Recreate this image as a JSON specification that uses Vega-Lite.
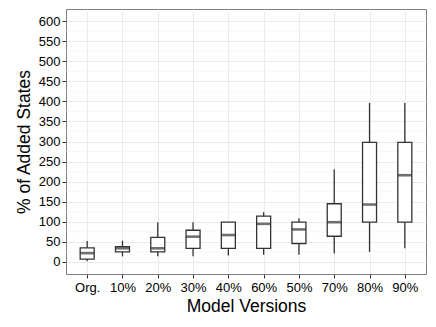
{
  "$schema": "https://vega.github.io/schema/vega-lite/v6.json",
  "autosize": "none",
  "width": 360,
  "height": 265,
  "padding": {"left": 66, "top": 9, "right": 10, "bottom": 53},
  "background": "white",
  "config": {
    "font": "Liberation Sans",
    "view": {"stroke": "#7f7f7f", "strokeWidth": 1},
    "axisY": {
      "title": "% of Added States",
      "titleFontSize": 17.5,
      "titleFontWeight": "normal",
      "titleColor": "black",
      "titlePadding": 5,
      "labelFontSize": 13,
      "labelColor": "black",
      "labelPadding": 2,
      "tickColor": "#333333",
      "tickSize": 4,
      "domain": false,
      "grid": true,
      "gridColor": "#ebebeb",
      "gridWidth": 1
    }
  },
  "data": {
    "values": [
      {"version": "Org.", "lower": 2, "q1": 7, "median": 22, "q3": 35, "upper": 52},
      {"version": "10%", "lower": 14, "q1": 25, "median": 34, "q3": 38, "upper": 53},
      {"version": "20%", "lower": 14, "q1": 25, "median": 34, "q3": 61, "upper": 99},
      {"version": "30%", "lower": 14, "q1": 34, "median": 63, "q3": 79, "upper": 99},
      {"version": "40%", "lower": 16, "q1": 34, "median": 67, "q3": 99, "upper": 99},
      {"version": "60%", "lower": 18, "q1": 34, "median": 95, "q3": 114, "upper": 124},
      {"version": "50%", "lower": 18, "q1": 46, "median": 81, "q3": 99, "upper": 109},
      {"version": "70%", "lower": 21, "q1": 64, "median": 99, "q3": 145, "upper": 231},
      {"version": "80%", "lower": 25, "q1": 99, "median": 143, "q3": 298, "upper": 396},
      {"version": "90%", "lower": 34, "q1": 99, "median": 216, "q3": 298, "upper": 396}
    ]
  },
  "encoding": {
    "x": {
      "field": "version",
      "type": "nominal",
      "sort": null,
      "scale": {"type": "point", "padding": 0.6},
      "axis": {
        "title": "Model Versions",
        "titleFontSize": 17.5,
        "titleFontWeight": "normal",
        "titleColor": "black",
        "titlePadding": 3,
        "labelFontSize": 13,
        "labelColor": "black",
        "labelAngle": 0,
        "labelPadding": 3,
        "tickColor": "#333333",
        "tickSize": 4,
        "domain": false,
        "grid": true,
        "gridColor": "#ebebeb",
        "gridWidth": 1
      }
    }
  },
  "layer": [
    {
      "mark": {"type": "rule", "color": "#f2f2f2", "strokeWidth": 0.6},
      "data": {"values": [
        {"m": 25}, {"m": 75}, {"m": 125}, {"m": 175}, {"m": 225}, {"m": 275}, {"m": 325},
        {"m": 375}, {"m": 425}, {"m": 475}, {"m": 525}, {"m": 575}
      ]},
      "encoding": {
        "x": null,
        "y": {
          "field": "m",
          "type": "quantitative",
          "title": "% of Added States",
          "scale": {"domain": [-30, 630], "nice": false, "zero": false},
          "axis": {"values": [0, 50, 100, 150, 200, 250, 300, 350, 400, 450, 500, 550, 600]}
        }
      }
    },
    {
      "mark": {"type": "rule", "color": "#333333", "strokeWidth": 1.3},
      "encoding": {
        "y": {"field": "lower", "type": "quantitative", "title": "% of Added States",
              "axis": {"values": [0, 50, 100, 150, 200, 250, 300, 350, 400, 450, 500, 550, 600]}},
        "y2": {"field": "upper"}
      }
    },
    {
      "mark": {"type": "bar", "fill": "white", "stroke": "#333333", "strokeWidth": 1.3, "size": 14},
      "encoding": {
        "y": {"field": "q1", "type": "quantitative", "title": "% of Added States",
              "axis": {"values": [0, 50, 100, 150, 200, 250, 300, 350, 400, 450, 500, 550, 600]}},
        "y2": {"field": "q3"}
      }
    },
    {
      "mark": {"type": "tick", "color": "#333333", "thickness": 2.6, "size": 14},
      "encoding": {
        "y": {"field": "median", "type": "quantitative", "title": "% of Added States",
              "axis": {"values": [0, 50, 100, 150, 200, 250, 300, 350, 400, 450, 500, 550, 600]}}
      }
    }
  ]
}
